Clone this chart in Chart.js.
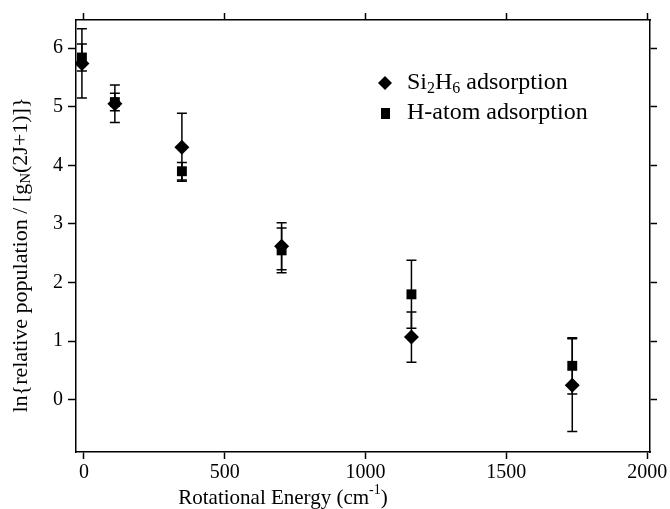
<!DOCTYPE html>
<html>
<head>
<meta charset="utf-8">
<script src="https://cdn.jsdelivr.net/npm/chart.js@4/dist/chart.umd.min.js"></script>
<style>
  body { margin: 0; background: #fff; }
  #wrap { width: 670px; height: 509px; }
</style>
</head>
<body>
<div id="wrap"><canvas id="rotChart" width="670" height="509"></canvas></div>
<script>
// rotational energies (cm-1)
const energies = [-7, 110, 348, 702, 1163, 1734];
// Si2H6 adsorption
const si2h6Vals = [5.74, 5.05, 4.31, 2.62, 1.07, 0.25];
const si2h6Err  = [0.59, 0.32, 0.58, 0.40, 0.43, 0.79];
// H-atom adsorption
const hAtomVals = [5.84, 5.08, 3.90, 2.55, 1.80, 0.58];
const hAtomErr  = [0.23, 0.15, 0.15, 0.38, 0.58, 0.48];

const xTicks = [0, 500, 1000, 1500, 2000];
const yTicks = [0, 1, 2, 3, 4, 5, 6];

const serif = '"Liberation Serif", "Times New Roman", serif';

function toPoints(xs, ys) {
    return xs.map((x, i) => ({ x: x, y: ys[i] }));
}

// draws text with subscript / superscript parts, parts = [[text, mode], ...]
// mode 0 = normal, 1 = sub, 2 = sup
function drawParts(ctx, parts, x, y, size) {
    let cx = x;
    parts.forEach(p => {
        ctx.font = (p[1] ? Math.round(size * 0.68) : size) + 'px ' + serif;
        let dy = 0;
        if (p[1] === 1) dy = size * 0.25;
        if (p[1] === 2) dy = -size * 0.35;
        ctx.fillText(p[0], cx, y + dy);
        cx += ctx.measureText(p[0]).width;
    });
}
function partsWidth(ctx, parts, size) {
    let w = 0;
    parts.forEach(p => {
        ctx.font = (p[1] ? Math.round(size * 0.68) : size) + 'px ' + serif;
        w += ctx.measureText(p[0]).width;
    });
    return w;
}

const errorBars = {
    id: 'errorBars',
    beforeDatasetsDraw(chart) {
        const ctx = chart.ctx;
        const xs = chart.scales.x, ys = chart.scales.y;
        const errs = [si2h6Err, hAtomErr];
        ctx.save();
        ctx.strokeStyle = '#000';
        ctx.lineWidth = 1.5;
        chart.data.datasets.forEach((ds, di) => {
            ds.data.forEach((pt, i) => {
                const px = xs.getPixelForValue(pt.x);
                const top = ys.getPixelForValue(pt.y + errs[di][i]);
                const bot = ys.getPixelForValue(pt.y - errs[di][i]);
                ctx.beginPath();
                ctx.moveTo(px, top); ctx.lineTo(px, bot);
                ctx.moveTo(px - 5, top); ctx.lineTo(px + 5, top);
                ctx.moveTo(px - 5, bot); ctx.lineTo(px + 5, bot);
                ctx.stroke();
            });
        });
        ctx.restore();
    }
};

const extraText = {
    id: 'extraText',
    afterDraw(chart) {
        const ctx = chart.ctx;
        ctx.save();
        ctx.fillStyle = '#000';
        ctx.textBaseline = 'middle';
        ctx.textAlign = 'left';

        // legend
        const legSize = 24;
        ctx.beginPath();
        ctx.moveTo(385, 76); ctx.lineTo(392, 83); ctx.lineTo(385, 90); ctx.lineTo(378, 83);
        ctx.closePath(); ctx.fill();
        ctx.fillRect(381, 108, 9, 11);
        drawParts(ctx, [['Si', 0], ['2', 1], ['H', 0], ['6', 1], [' adsorption', 0]], 407, 83, legSize);
        drawParts(ctx, [['H-atom adsorption', 0]], 407, 113, legSize);

        // x axis title
        const xSize = 21;
        const xParts = [['Rotational Energy (cm', 0], ['-1', 2], [')', 0]];
        const xw = partsWidth(ctx, xParts, xSize);
        drawParts(ctx, xParts, 283 - xw / 2, 498, xSize);

        // y axis title
        const ySize = 22;
        const yParts = [['ln{relative population / [g', 0], ['N', 1], ['(2J+1)]}', 0]];
        const w = partsWidth(ctx, yParts, ySize);
        ctx.translate(21, 255);
        ctx.rotate(-Math.PI / 2);
        drawParts(ctx, yParts, -w / 2, 0, ySize);
        ctx.restore();
    }
};

const ctx = document.getElementById('rotChart').getContext('2d');
new Chart(ctx, {
    type: 'scatter',
    data: {
        datasets: [
            {
                label: 'Si2H6 adsorption',
                data: toPoints(energies, si2h6Vals),
                pointStyle: 'rectRot',
                pointRadius: 7.5,
                backgroundColor: '#000',
                borderColor: '#000',
                borderWidth: 0
            },
            {
                label: 'H-atom adsorption',
                data: toPoints(energies, hAtomVals),
                pointStyle: 'rect',
                pointRadius: 7,
                backgroundColor: '#000',
                borderColor: '#000',
                borderWidth: 0
            }
        ]
    },
    options: {
        responsive: false,
        animation: false,
        layout: { padding: 0 },
        plugins: {
            legend: { display: false },
            tooltip: { enabled: false }
        },
        scales: {
            x: {
                type: 'linear', position: 'bottom', min: -28, max: 2010,
                afterBuildTicks: s => { s.ticks = xTicks.map(v => ({ value: v })); },
                afterFit: s => { s.height = 57; },
                grid: { drawOnChartArea: false, tickLength: 7, color: '#000', tickWidth: 1.5 },
                border: { color: '#000', width: 1.5 },
                ticks: { color: '#000', font: { family: serif, size: 20 }, padding: 2, maxRotation: 0,
                         callback: v => String(v) }
            },
            x2: {
                type: 'linear', position: 'top', min: -28, max: 2010,
                afterBuildTicks: s => { s.ticks = xTicks.map(v => ({ value: v })); },
                afterFit: s => { s.height = 20; },
                grid: { drawOnChartArea: false, tickLength: 7, color: '#000', tickWidth: 1.5 },
                border: { color: '#000', width: 1.5 },
                ticks: { display: false }
            },
            y: {
                type: 'linear', position: 'left', min: -0.89, max: 6.48,
                afterBuildTicks: s => { s.ticks = yTicks.map(v => ({ value: v })); },
                afterFit: s => { s.width = 76; },
                grid: { drawOnChartArea: false, tickLength: 8, color: '#000', tickWidth: 1.5 },
                border: { color: '#000', width: 1.5 },
                ticks: { color: '#000', font: { family: serif, size: 20 }, padding: 5,
                         callback: v => String(v) }
            },
            y2: {
                type: 'linear', position: 'right', min: -0.89, max: 6.48,
                afterBuildTicks: s => { s.ticks = yTicks.map(v => ({ value: v })); },
                afterFit: s => { s.width = 20; },
                grid: { drawOnChartArea: false, tickLength: 7, color: '#000', tickWidth: 1.5 },
                border: { color: '#000', width: 1.5 },
                ticks: { display: false }
            }
        }
    },
    plugins: [errorBars, extraText]
});
</script>
</body>
</html>
